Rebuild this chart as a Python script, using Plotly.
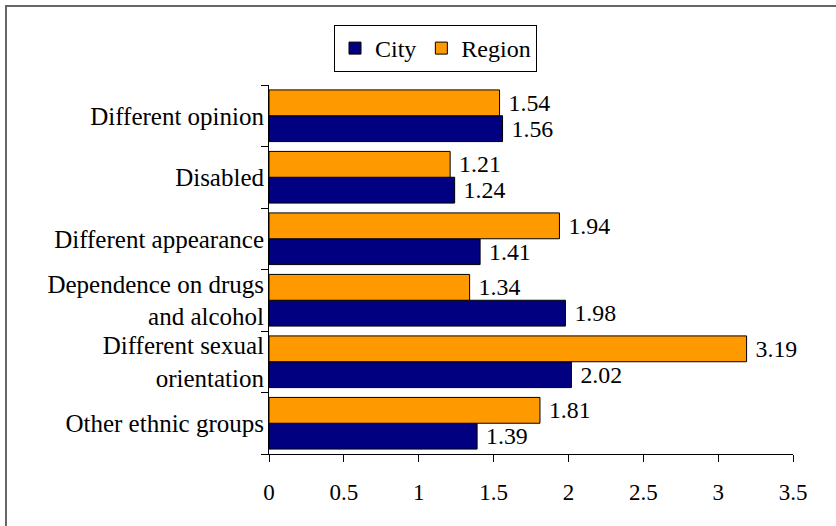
import plotly.graph_objects as go

categories = ["Different opinion", "Disabled", "Different appearance",
              "Dependence on drugs<br>and alcohol", "Different sexual<br>orientation",
              "Other ethnic groups"]
city = [1.56, 1.24, 1.41, 1.98, 2.02, 1.39]
region = [1.54, 1.21, 1.94, 1.34, 3.19, 1.81]
x_ticks = [0, 0.5, 1, 1.5, 2, 2.5, 3, 3.5]

FONT = "Times New Roman, Liberation Serif, DejaVu Serif, serif"
FS = 24

fig = go.Figure()
fig.add_trace(go.Bar(
    y=categories, x=city, name="City", orientation="h",
    marker=dict(color="#000080", line=dict(color="black", width=1)),
    text=[f"\u00a0{v:.2f}" for v in city], textposition="outside",
    textfont=dict(family=FONT, size=FS, color="black"), cliponaxis=False,
))
fig.add_trace(go.Bar(
    y=categories, x=region, name="Region", orientation="h",
    marker=dict(color="#FF9900", line=dict(color="black", width=1)),
    text=[f"\u00a0{v:.2f}" for v in region], textposition="outside",
    textfont=dict(family=FONT, size=FS, color="black"), cliponaxis=False,
))

L, R, T, B = 269, 43, 85, 72
W, H = 836, 526
pw, ph = W - L - R, H - T - B

fig.update_layout(
    width=W, height=H,
    margin=dict(l=L, r=R, t=T, b=B),
    barmode="group", bargap=0.16, bargroupgap=0,
    plot_bgcolor="white", paper_bgcolor="white",
    font=dict(family=FONT, size=FS, color="black"),
    legend=dict(
        orientation="h", x=(334 - L) / pw, y=1 + (T - 25) / ph,
        xanchor="left", yanchor="top",
        bordercolor="black", borderwidth=1,
        font=dict(family=FONT, size=24), traceorder="normal",
        tracegroupgap=0, itemwidth=30,
    ),
    xaxis=dict(
        range=[0, 3.5], tickvals=x_ticks, ticktext=[str(t) for t in x_ticks],
        showgrid=False, zeroline=False, showline=True, linecolor="black",
        ticks="outside", ticklen=7, tickcolor="black", ticklabelstandoff=10,
        tickfont=dict(family=FONT, size=23),
    ),
    yaxis=dict(
        categoryorder="array", categoryarray=categories[::-1],
        showgrid=False, zeroline=False, showline=True, linecolor="black",
        ticks="outside", ticklen=7, tickcolor="black", tickson="boundaries",
        ticklabelstandoff=-1,
        tickfont=dict(family=FONT, size=25),
    ),
    shapes=[dict(
        type="rect", xref="paper", yref="paper",
        x0=(6 - L) / pw, x1=1.3, y0=-0.4, y1=1 + (T - 6) / ph,
        line=dict(color="#666666", width=2), fillcolor="rgba(0,0,0,0)",
        layer="below",
    )],
)

fig.write_html(
    "out.html",
    config={"displayModeBar": False},
    post_script="document.body.style.margin='0';document.body.style.padding='0';",
)
